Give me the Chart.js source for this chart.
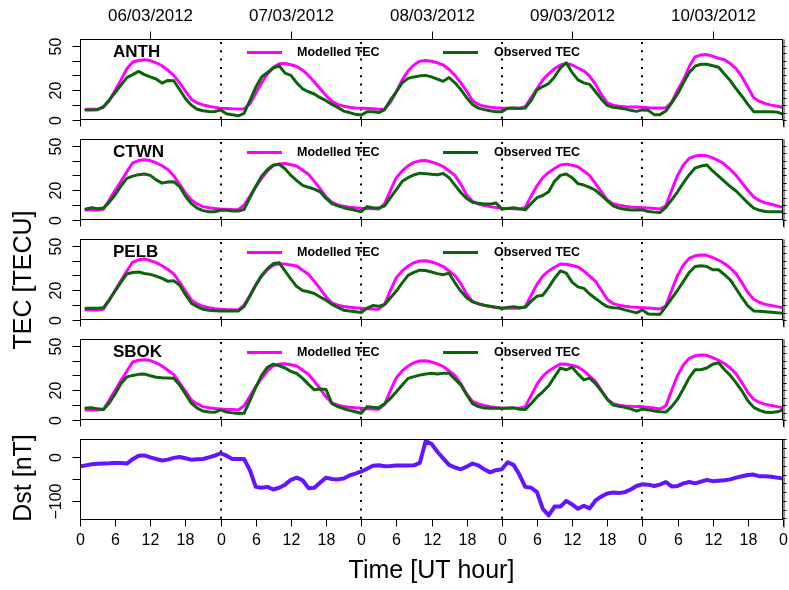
<!DOCTYPE html>
<html>
<head>
<meta charset="utf-8">
<script src="https://cdn.jsdelivr.net/npm/chart.js@4.4.1/dist/chart.umd.min.js"></script>
<style>
  html, body { margin: 0; padding: 0; background: #fff; }
  #wrap { position: relative; width: 789px; height: 590px; }
  #wrap canvas { position: absolute; left: 0; top: 0; }
</style>
</head>
<body>
<div id="wrap">
  <canvas id="p0" width="789" height="590"></canvas>
  <canvas id="p1" width="789" height="590"></canvas>
  <canvas id="p2" width="789" height="590"></canvas>
  <canvas id="p3" width="789" height="590"></canvas>
  <canvas id="p4" width="789" height="590"></canvas>
</div>
<script>
// ---- data (hourly) ----
const stations = ['ANTH', 'CTWN', 'PELB', 'SBOK'];
const dayLabels = ['06/03/2012', '07/03/2012', '08/03/2012', '09/03/2012', '10/03/2012'];
const dayTickHours = [12, 36, 60, 84, 108];
const midnightHours = [24, 48, 72, 96];
const hourTickLabels = ['0', '6', '12', '18', '0', '6', '12', '18', '0', '6', '12', '18', '0', '6', '12', '18', '0', '6', '12', '18', '0'];
const tecTicks = [0, 10, 20, 30, 40, 50];
const tecTickLabels = ['0', '', '20', '', '', '50'];
const dstTicks = [-100, -50, 0];
const dstTickLabels = ['\u2212100', '', '0'];

const tecHours = Array.from({ length: 120 }, (_, i) => i + 1);
const dstHours = Array.from({ length: 121 }, (_, i) => i);

const anthModel = [
  7.2, 7.2, 7.3, 8.5, 13, 20, 27, 34.5, 39, 40, 40.5, 40, 38.5, 36.5, 33.5, 30, 25, 19.5, 14, 11.5, 10.2, 9.2, 8.5, 7.9,
  7.7, 7.5, 7.4, 7.5, 11, 18, 25, 31, 35.5, 37.8, 38, 37.2, 36, 33.5, 30, 25.5, 21, 16.5, 12.5, 10.5, 9.3, 8.6, 8.1, 7.9,
  7.7, 7.5, 7.3, 7.4, 12, 19, 27, 33, 37, 39.5, 40, 39.5, 38.5, 37, 34, 30, 25, 19.5, 13, 10.5, 9.2, 8.6, 8.2, 7.9,
  7.9, 7.9, 7.9, 9, 15, 21, 27, 31, 34.5, 37, 38, 37, 35, 33, 29.5, 24, 17, 11.5, 10, 9.3, 9, 8.8, 8.7, 8.6,
  8.3, 8.1, 8, 8, 12, 20, 27, 36, 42.5, 43.8, 44, 43, 41.5, 40.5, 38, 34.5, 29, 22, 15, 12.5, 11, 10, 9.3, 8.6
];
const anthObs = [
  6.8, 6.8, 6.9, 9, 13.5, 18.5, 23.5, 28.5, 30.5, 32.7, 30.5, 29, 27.6, 24.8, 26.6, 26.4, 20.5, 14.5, 10, 7.2, 6.2, 5.7, 5.6, 6.8,
  4.2, 3.5, 2.8, 4.5, 13, 22, 29, 32, 35, 36.5, 31.5, 30, 25, 21, 19, 17.5, 15, 13, 10.5, 8.5, 6, 5, 3.8, 3.3,
  5.6, 5.5, 5, 7, 13.5, 19, 25, 28, 29, 29.7, 30, 29, 27.5, 26, 28.6, 25, 20.5, 15, 10.5, 8, 7, 6.2, 5.5, 5.5,
  7.9, 8, 7.8, 8, 13, 20.3, 22.5, 24.5, 29, 35, 38.5, 32, 27, 25, 24, 19, 14, 9.8, 8.5, 8, 7.5, 6.5, 5.8, 6.8,
  6.5, 3.6, 3.6, 6, 11.5, 17.5, 25, 32, 36.2, 37.5, 37.5, 36.5, 35.5, 31, 26.5, 21, 16, 10.5, 5.6, 5.6, 5.6, 5.6, 5.3, 4
];
const ctwnModel = [
  6.8, 6.8, 6.8, 7.2, 13.5, 20, 26, 32.5, 38.5, 40, 40.5, 40, 38.5, 36.5, 34, 29.8, 24, 18.2, 13.5, 10.8, 9, 8.3, 7.8, 7.4,
  7.2, 7, 6.9, 10, 16, 22.5, 28, 33, 36.6, 37.7, 38, 37.2, 36.3, 33.5, 30.8, 26, 21, 15.5, 11.8, 10.2, 9.2, 8.6, 8.2, 7.9,
  7.7, 7.6, 7.4, 11, 20, 28.5, 33, 36.5, 38.8, 39.8, 40, 39, 37.8, 36, 33, 30, 24, 17, 12.5, 10.8, 9.8, 9, 8.4, 7.9,
  7.7, 7.5, 7.4, 8.5, 16, 23, 28.5, 32, 34.7, 37, 37.6, 36.8, 35.8, 33, 29.8, 24.5, 19, 13.5, 11, 10, 9.2, 8.8, 8.5, 8.3,
  8, 7.7, 7.4, 9.5, 20, 30, 37, 41.5, 43, 43.5, 43.2, 41.8, 40, 37.5, 34, 30, 25, 20, 15.5, 13, 11.5, 10.6, 9.5, 8.3
];
const ctwnObs = [
  7.4, 8.3, 7.6, 8, 12, 17, 23, 28, 29.5, 30.5, 31, 30, 27, 24.8, 25.5, 25.8, 22.5, 16, 11, 8, 6.3, 5.6, 5.6, 6.6,
  6.5, 6.1, 6.1, 7, 15, 22.5, 29.5, 34, 37, 37.5, 34.5, 30, 26.5, 23.3, 22, 20.8, 19, 14.5, 11, 9.5, 8.3, 7.4, 6.5, 5.6,
  9, 8.3, 8, 9.5, 15, 20.5, 26, 28.5, 30.3, 31.5, 31.2, 30.8, 30.5, 31.3, 28.5, 23.5, 18.5, 14.5, 12, 11.2, 10.8, 10.7, 11.5, 7.4,
  7.8, 8.3, 7.5, 6.8, 11, 15, 16.5, 19, 26, 30, 31, 28.5, 24.5, 23.5, 22, 20, 16.5, 13, 9.5, 8, 7.2, 6.8, 6.8, 6.8,
  5.7, 5.3, 5, 8.5, 13.5, 19, 25, 30.5, 35, 36.3, 37, 33, 29.5, 26, 22.5, 19.5, 15.5, 11.5, 8, 6.5, 5.7, 5.6, 5.6, 5.6
];
const pelbModel = [
  6.8, 6.8, 6.8, 7.2, 13.5, 20, 26.5, 33, 39, 40.5, 41, 40, 38.6, 36.5, 34, 31, 25.5, 19.5, 13.5, 10.8, 9.2, 8.3, 7.6, 7.2,
  7, 6.9, 6.8, 10, 16.5, 23.5, 29.5, 34, 36.8, 37.8, 37.6, 37, 36.3, 33.5, 30.8, 26, 21, 15.5, 11.5, 10, 9.1, 8.6, 8.2, 7.9,
  7.6, 7.4, 7.3, 10.5, 20, 28.5, 33, 36.3, 38.5, 39.7, 39.9, 39, 37.8, 36, 33, 30, 24.5, 17.5, 12.5, 10.8, 9.8, 9, 8.4, 7.9,
  7.9, 7.9, 7.9, 9, 16.5, 24, 29.5, 33, 35.5, 37.6, 37.5, 36.7, 35.7, 33, 29.5, 26, 20, 14, 11, 10, 9.2, 8.8, 8.5, 8.3,
  8, 7.7, 7.4, 9.5, 20, 30, 37, 41.5, 43.2, 43.8, 43.5, 42, 40.2, 38, 35, 31, 25, 18.5, 14, 11.8, 10.5, 9.8, 9, 8.3
];
const pelbObs = [
  7.9, 7.9, 7.9, 8.3, 13.5, 19.5, 25.5, 31, 32, 32.3, 31.3, 30.7, 29.5, 28, 26, 26.4, 23.5, 17, 11.3, 9, 7.2, 6.5, 6.2, 6.1,
  6.1, 6.1, 6.1, 9, 16, 23.5, 30, 34.5, 38, 38.5, 33, 27.5, 22.5, 19.8, 19, 17.8, 15.5, 13.3, 10.5, 8.5, 6.6, 6, 5.5, 5,
  8, 9.7, 9.2, 10.5, 15, 19.5, 25, 30, 32, 33.5, 33.3, 32.3, 31.2, 30.5, 31.5, 25, 19.5, 15, 12.2, 11, 10, 9.3, 8.6, 7.9,
  8.5, 9, 8.3, 8.5, 12.5, 16, 16.7, 22, 28, 33, 31.5, 25.5, 22.3, 21.3, 17.5, 14.5, 11.5, 9, 8.2, 8, 6.8, 5.8, 4.8, 6.8,
  4, 3.8, 3.8, 9, 14.5, 20, 26, 32, 36, 36.5, 36, 33.8, 33.8, 30.5, 27, 21, 15, 9.5, 6.1, 5.9, 5.6, 5.2, 4.8, 4.5
];
const sbokModel = [
  6.8, 6.8, 6.8, 7.2, 13.5, 20, 26.5, 33, 39, 40.2, 40.5, 40, 38.5, 36.3, 33.5, 30.5, 25, 19.5, 13.5, 10.8, 9, 8.2, 7.7, 7.4,
  7.1, 7, 6.8, 9.5, 16, 22.5, 28, 33, 36.5, 37.6, 37.8, 37.2, 36.3, 33.5, 30.8, 26, 21, 15.5, 11.5, 10, 9.1, 8.6, 8.2, 7.9,
  7.6, 7.4, 7.3, 10.5, 20, 28.5, 33, 36.3, 38.5, 39.7, 39.9, 39, 37.8, 36, 33, 30, 24.5, 17.5, 12.5, 10.8, 9.8, 9, 8.4, 7.9,
  7.9, 7.9, 7.9, 9, 16.5, 24, 29.5, 33, 35.5, 37.6, 37.5, 36.7, 35.7, 33, 29.5, 26, 20, 14, 11, 10, 9.5, 9.2, 9, 9,
  8.5, 8, 7.4, 9.5, 20, 30, 37, 41.5, 43.2, 43.8, 43.5, 42, 40.2, 38, 35, 31, 25, 18.5, 14, 11.8, 10.5, 9.8, 9, 8.3
];
const sbokObs = [
  8, 8.3, 7.5, 7, 11.5, 17.5, 24.5, 29, 30, 30.7, 30.9, 29.8, 28.8, 28.4, 28.3, 28.1, 23.6, 17.5, 11.3, 8, 6, 5.4, 5.2, 6.8,
  5.3, 4.8, 4.3, 4.5, 13, 22, 30, 35.5, 37.6, 36.5, 35, 32.7, 31.3, 28, 24, 20.3, 20.8, 20.5, 11, 9, 7.6, 6.5, 5.5, 4.5,
  9, 8.6, 8.3, 11, 14.6, 19, 23.5, 28, 29.2, 30.2, 31, 31.5, 30.9, 31.5, 31.5, 27.5, 23.6, 17, 11, 9, 8, 7.9, 7.9, 7.9,
  8, 8.3, 7.2, 7, 11, 15.5, 19, 23, 29, 34.9, 33.8, 35.5, 31, 27, 28.2, 24.5, 19.5, 14, 10, 9.3, 8.5, 7.5, 6, 7.4,
  6.8, 6.1, 5.6, 5.3, 9, 14, 21, 28.5, 33.8, 33.8, 35, 37.5, 38.5, 34, 30, 25, 19.5, 13, 8.5, 6.5, 5.2, 5, 5.5, 6.8
];
const dstValues = [
  -22, -19, -16.5, -15.5, -15, -14.5, -13.5, -13.5, -15, -5, 3, 3.5, -1, -4.5, -8, -6, -2, 0, -3, -6, -5, -4.5, -1, 3,
  8.5, 3, -4.5, -4.5, -4.5, -30, -68, -70, -68, -74, -70, -63, -52, -47, -53, -71, -70, -58, -47, -50, -51, -49, -42, -38,
  -33, -27, -20, -19, -21, -20.5, -19.5, -19.5, -19.5, -19, -13.5, 36, 30, 12, -3, -18, -24, -28, -22, -15, -19, -28, -35, -30,
  -28, -12, -18, -40, -68, -70, -80, -118, -133, -113, -113, -100, -108, -118, -111, -117, -99, -90, -83, -81, -82, -80, -74, -66,
  -62, -63, -66, -63, -57, -67, -66, -60, -57, -60, -56, -52, -55, -54, -53, -51, -47, -44, -41, -40, -44, -44, -45, -47, -49
];

// ---- layout ----
const W = 789, H = 590;
const PLOT_LEFT = 80, PLOT_RIGHT = 783;
const PANEL_TOPS = [39, 139, 239, 339, 439];
const PANEL_H = 81;
const FONT = '"Liberation Sans", Arial, Helvetica, sans-serif';
const MAGENTA = '#ff00ff', GREEN = '#0a640a', DST_COLOR = '#6414ff';

const pts = (xs, ys) => ys.map((y, i) => ({ x: xs[i], y }));

/* R-style frame: box, outward ticks, rotated y labels, dotted day lines */
const rFrame = {
  id: 'rFrame',
  beforeDatasetsDraw(chart, args, o) {
    const { ctx, chartArea: a, scales: { x } } = chart;
    ctx.save();
    ctx.strokeStyle = '#000';
    ctx.lineWidth = 2;
    ctx.setLineDash([2, 6.3]);
    midnightHours.forEach(h => {
      const px = Math.round(x.getPixelForValue(h));
      ctx.beginPath();
      ctx.moveTo(px, a.top + 3);
      ctx.lineTo(px, a.bottom);
      ctx.stroke();
    });
    ctx.restore();
  },
  afterDraw(chart, args, o) {
    const { ctx, chartArea: a, scales: { x, y } } = chart;
    const L = Math.round(a.left) + 0.5, R = Math.round(a.right) - 0.5;
    const T = Math.round(a.top) + 0.5, B = Math.round(a.bottom) - 0.5;
    ctx.save();
    ctx.strokeStyle = '#000';
    ctx.fillStyle = '#000';
    ctx.lineWidth = 1;
    ctx.strokeRect(L, T, R - L, B - T);

    // left axis
    o.yTicks.forEach((v, i) => {
      const py = Math.round(y.getPixelForValue(v)) + 0.5;
      ctx.beginPath(); ctx.moveTo(L - 8, py); ctx.lineTo(L, py); ctx.stroke();
      if (o.yLabels[i]) {
        ctx.save();
        ctx.translate(57, py);
        ctx.rotate(-Math.PI / 2);
        ctx.font = '16px ' + FONT;
        ctx.textAlign = 'center';
        ctx.textBaseline = 'middle';
        ctx.fillText(o.yLabels[i], 0, 0);
        ctx.restore();
      }
    });
    // right axis: grey rail with short dark ticks
    ctx.save();
    ctx.strokeStyle = '#8a8a8a';
    ctx.lineWidth = 2;
    ctx.beginPath(); ctx.moveTo(R + 1.5, T); ctx.lineTo(R + 1.5, B + 8); ctx.stroke();
    ctx.restore();
    for (let v = o.rightFrom; v <= y.max; v += o.rightStep) {
      const py = Math.round(y.getPixelForValue(v)) + 0.5;
      ctx.beginPath(); ctx.moveTo(R, py); ctx.lineTo(R + 4, py); ctx.stroke();
    }

    // bottom axis
    o.xTicks.forEach((h, i) => {
      const px = Math.round(x.getPixelForValue(h)) + 0.5;
      ctx.beginPath(); ctx.moveTo(px, B); ctx.lineTo(px, B + 7); ctx.stroke();
      if (o.xLabels) {
        ctx.font = '16px ' + FONT;
        ctx.textAlign = 'center';
        ctx.textBaseline = 'middle';
        ctx.fillText(o.xLabels[i], px, B + 21);
      }
    });

    // top axis with dates (first panel only)
    if (o.topTicks) {
      o.topTicks.forEach((h, i) => {
        const px = Math.round(x.getPixelForValue(h)) + 0.5;
        ctx.beginPath(); ctx.moveTo(px, T - 8); ctx.lineTo(px, T); ctx.stroke();
        ctx.font = '17px ' + FONT;
        ctx.textAlign = 'center';
        ctx.textBaseline = 'middle';
        ctx.fillText(o.topLabels[i], px, 16);
      });
    }

    // station name + legend
    if (o.station) {
      ctx.font = 'bold 17px ' + FONT;
      ctx.textAlign = 'left';
      ctx.textBaseline = 'middle';
      ctx.fillText(o.station, 113, T + 13);
      const ly = T + 13;
      ctx.lineWidth = 3;
      ctx.strokeStyle = MAGENTA;
      ctx.beginPath(); ctx.moveTo(247, ly); ctx.lineTo(282, ly); ctx.stroke();
      ctx.strokeStyle = GREEN;
      ctx.beginPath(); ctx.moveTo(443, ly); ctx.lineTo(478, ly); ctx.stroke();
      ctx.font = 'bold 12.5px ' + FONT;
      ctx.fillText('Modelled TEC', 297, ly);
      ctx.fillText('Observed TEC', 494, ly);
    }

    // outer axis titles (drawn once, on the Dst panel)
    if (o.titles) {
      ctx.font = '25px ' + FONT;
      ctx.textAlign = 'center';
      ctx.textBaseline = 'middle';
      ctx.fillText('Time [UT hour]', (a.left + a.right) / 2, 571);
      [['TEC [TECU]', 280], ['Dst [nT]', 478]].forEach(([t, cy]) => {
        ctx.save();
        ctx.translate(24, cy);
        ctx.rotate(-Math.PI / 2);
        ctx.fillText(t, 0, 0);
        ctx.restore();
      });
    }
    ctx.restore();
  }
};

function makePanel(canvasId, idx, datasets, yMin, yMax, frameOpts) {
  const top = PANEL_TOPS[idx];
  return new Chart(document.getElementById(canvasId), {
    type: 'line',
    data: { datasets },
    options: {
      responsive: false,
      devicePixelRatio: 1,
      animation: false,
      events: [],
      layout: { padding: { left: PLOT_LEFT, right: W - PLOT_RIGHT, top: top, bottom: H - top - PANEL_H } },
      elements: { point: { radius: 0 }, line: { tension: 0, borderJoinStyle: 'round', borderCapStyle: 'round' } },
      plugins: { legend: { display: false }, tooltip: { enabled: false }, rFrame: frameOpts },
      scales: {
        x: { type: 'linear', min: 0, max: 120, display: false },
        y: { type: 'linear', min: yMin, max: yMax, display: false }
      }
    },
    plugins: [rFrame]
  });
}

const tecSeries = [[anthModel, anthObs], [ctwnModel, ctwnObs], [pelbModel, pelbObs], [sbokModel, sbokObs]];
const dayBoundaries = [0, 24, 48, 72, 96, 120];

tecSeries.forEach(([model, obs], i) => {
  makePanel('p' + i, i, [
    { label: 'Modelled TEC', data: pts(tecHours, model), borderColor: MAGENTA, borderWidth: 3, order: 2 },
    { label: 'Observed TEC', data: pts(tecHours, obs), borderColor: GREEN, borderWidth: 3, order: 1 }
  ], 0, 54.5, {
    yTicks: tecTicks, yLabels: tecTickLabels, rightFrom: 0, rightStep: 5,
    xTicks: dayBoundaries,
    topTicks: i === 0 ? dayTickHours : null, topLabels: dayLabels,
    station: stations[i]
  });
});

makePanel('p4', 4, [
  { label: 'Dst', data: pts(dstHours, dstValues), borderColor: DST_COLOR, borderWidth: 4 }
], -143.5, 41, {
  yTicks: dstTicks, yLabels: dstTickLabels, rightFrom: -140, rightStep: 20,
  xTicks: hourTickLabels.map((_, i) => i * 6), xLabels: hourTickLabels,
  titles: true
});
</script>
</body>
</html>
